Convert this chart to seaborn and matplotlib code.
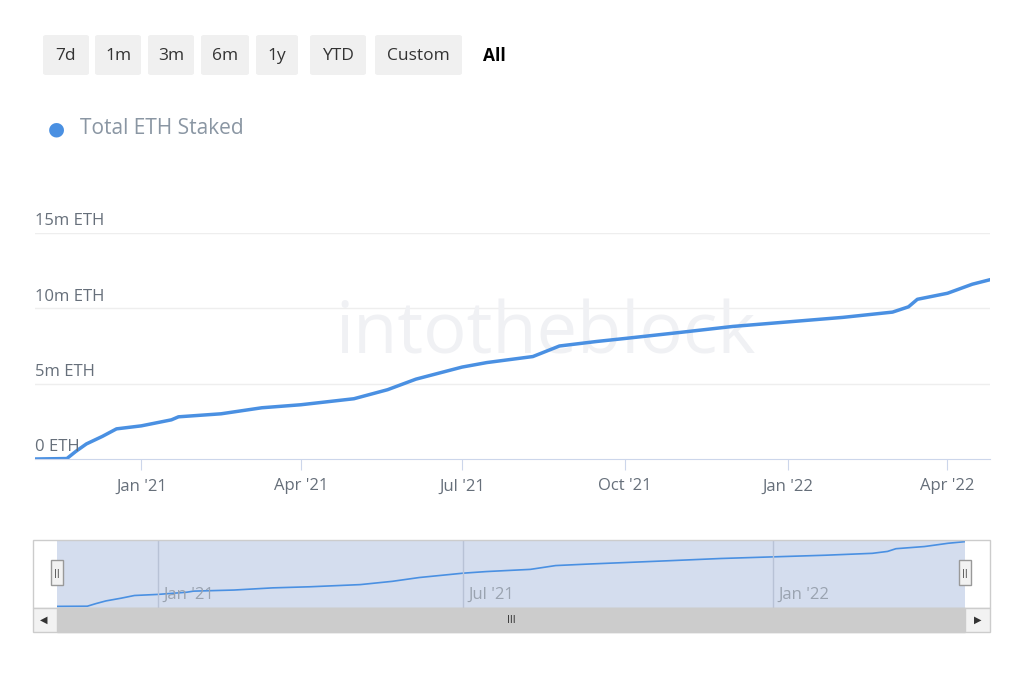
import matplotlib
matplotlib.use("Agg")
import matplotlib.pyplot as plt
import seaborn as sns
import pandas as pd
import numpy as np
from matplotlib.patches import FancyBboxPatch, Rectangle

dates = ["2020-11-02","2020-11-20","2020-11-25","2020-12-01","2020-12-10","2020-12-18",
         "2021-01-01","2021-01-18","2021-01-22","2021-02-15","2021-03-10","2021-04-01",
         "2021-05-01","2021-05-20","2021-06-05","2021-07-01","2021-07-15","2021-08-10",
         "2021-08-25","2021-09-15","2021-10-01","2021-11-01","2021-12-01","2022-01-01",
         "2022-02-01","2022-03-01","2022-03-10","2022-03-15","2022-04-01","2022-04-15",
         "2022-04-25"]
staked_m = [0.0,0.03,0.5,1.0,1.5,2.0,2.2,2.6,2.8,3.0,3.4,3.6,4.0,4.6,5.3,6.1,6.4,6.8,
            7.5,7.8,8.0,8.4,8.8,9.1,9.4,9.75,10.1,10.6,11.0,11.6,11.9]
ytick_vals = [0, 5, 10, 15]
ytick_labels = ["0 ETH", "5m ETH", "10m ETH", "15m ETH"]
xtick_dates = ["2021-01-01","2021-04-01","2021-07-01","2021-10-01","2022-01-01","2022-04-01"]
xtick_labels = ["Jan '21","Apr '21","Jul '21","Oct '21","Jan '22","Apr '22"]
nav_dates = ["2021-01-01","2021-07-01","2022-01-01"]
nav_labels = ["Jan '21","Jul '21","Jan '22"]
buttons = ["7d","1m","3m","6m","1y","YTD","Custom"]

df = pd.DataFrame({"date": pd.to_datetime(dates), "value": staked_m})
W, H = 1024, 683
fig = plt.figure(figsize=(W/100, H/100), dpi=100)
fig.patch.set_facecolor("white")
def fx(x): return x / W
def fy(y): return 1 - y / H
blue = "#4a90e2"
grey = "#666f7a"
x0, x1 = pd.Timestamp("2020-11-02"), pd.Timestamp("2022-04-25")

# buttons
bx = [43, 95, 148, 201, 256, 310, 375]
bw = [46, 46, 46, 48, 42, 56, 87]
for b, x, w in zip(buttons, bx, bw):
    fig.patches.append(FancyBboxPatch((fx(x), fy(75)), fx(w), 40/H, boxstyle="round,pad=0,rounding_size=0.003",
                                      transform=fig.transFigure, fc="#f0f0f0", ec="none"))
    fig.text(fx(x + w/2), fy(56), b, ha="center", va="center", fontsize=12.5, color="#333333", family="Open Sans")
fig.text(fx(494), fy(56), "All", ha="center", va="center", fontsize=12.5, color="black", weight="bold", family="Open Sans")

# legend
fig.text(fx(56), fy(129), "●", ha="center", va="center", fontsize=14, color=blue)
fig.text(fx(80), fy(128), "Total ETH Staked", ha="left", va="center", fontsize=15, color="#8a96a3", family="Open Sans")

# main axes
ax = fig.add_axes([fx(35), fy(459), fx(955), (459-233)/H])
sns.lineplot(data=df, x="date", y="value", ax=ax, color=blue, linewidth=2.5)
ax.set_xlim(x0, x1); ax.set_ylim(0, 15)
for s in ["top","right","left"]: ax.spines[s].set_visible(False)
ax.spines["bottom"].set_color("#ccd6eb")
ax.set_yticks([]); ax.set_xlabel(""); ax.set_ylabel("")
for v, l in zip(ytick_vals, ytick_labels):
    if v > 0:
        ax.axhline(v, color="#eeeeee", lw=1, zorder=0)
    ax.text(0.0, v + 0.25, l, transform=ax.get_yaxis_transform(), ha="left", va="bottom",
            fontsize=12, color=grey, family="Open Sans")
ax.set_xticks(pd.to_datetime(xtick_dates))
ax.set_xticklabels(xtick_labels, fontsize=12, color=grey, family="Open Sans")
ax.tick_params(axis="x", length=8, color="#ccd6eb", pad=6)
ax.text(0.535, 0.55, "intotheblock", transform=ax.transAxes, ha="center", va="center",
        fontsize=52, color="#f0f1f4", zorder=0, family="Open Sans")

# navigator
nav = fig.add_axes([fx(57), fy(608), fx(908), 68/H])
nav.set_facecolor("#d4ddee")
sns.lineplot(data=df, x="date", y="value", ax=nav, color=blue, linewidth=1.2)
nav.set_xlim(x0, x1); nav.set_ylim(-0.3, 12.2)
nav.set_xticks([]); nav.set_yticks([]); nav.set_xlabel(""); nav.set_ylabel("")
for s in nav.spines.values(): s.set_visible(False)
for d, l in zip(nav_dates, nav_labels):
    nav.axvline(pd.Timestamp(d), color="#b8c2d6", lw=1)
    nav.text(pd.Timestamp(d) + pd.Timedelta(days=3), 1.3, l, fontsize=12, color="#9aa3b0", family="Open Sans")
# navigator outline
fig.patches.append(Rectangle((fx(33), fy(608)), fx(957), 68/H, transform=fig.transFigure, fill=False, ec="#cccccc", lw=1))
for hx in [57, 965]:
    fig.patches.append(Rectangle((fx(hx-6), fy(585)), fx(12), 25/H, transform=fig.transFigure, fc="#f2f2f2", ec="#999999", lw=1, zorder=5))
    fig.text(fx(hx), fy(573), "||", ha="center", va="center", fontsize=6, color="#333333", zorder=6)
# scrollbar
fig.patches.append(Rectangle((fx(33), fy(632)), fx(957), 24/H, transform=fig.transFigure, fc="#f2f2f2", ec="#cccccc", lw=1))
fig.patches.append(Rectangle((fx(57), fy(632)), fx(908), 24/H, transform=fig.transFigure, fc="#cccccc", ec="#cccccc", lw=1))
fig.text(fx(511), fy(620), "III", ha="center", va="center", fontsize=7, color="#333333")
fig.text(fx(44), fy(620), "◀", ha="center", va="center", fontsize=7, color="#333333")
fig.text(fx(978), fy(620), "▶", ha="center", va="center", fontsize=7, color="#333333")

fig.savefig("out.png", dpi=100, facecolor="white")
